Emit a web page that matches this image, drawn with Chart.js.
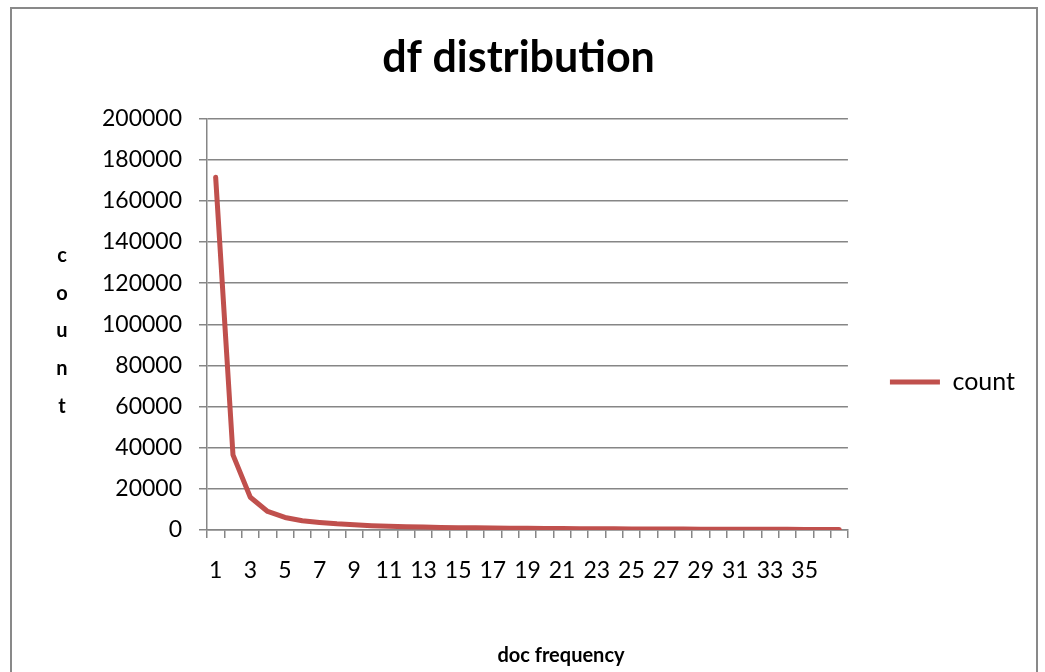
<!DOCTYPE html>
<html>
<head>
<meta charset="utf-8">
<script src="https://cdn.jsdelivr.net/npm/chart.js@4.4.1/dist/chart.umd.min.js"></script>
<style>
    body { margin: 0; overflow: hidden; background: #fff; }
    .chart-frame {
        position: absolute;
        left: 10px;
        top: 7px;
        width: 1024px;
        height: 746px;
        border: 2px solid #898989;
        background: #fff;
    }
</style>
</head>
<body>
<div class="chart-frame">
    <canvas id="dfChart" width="1024" height="746"></canvas>
</div>
<script>
// doc frequency categories and their counts
const categories = [1, 2, 3, 4, 5, 6, 7, 8, 9, 10, 11, 12, 13, 14, 15, 16, 17, 18, 19,
    20, 21, 22, 23, 24, 25, 26, 27, 28, 29, 30, 31, 32, 33, 34, 35, 36, 37];
const countValues = [171500, 36500, 15900, 9000, 6100, 4500, 3700, 3000, 2500, 2100,
    1800, 1600, 1400, 1250, 1150, 1050, 950, 880, 820, 760,
    700, 650, 600, 560, 520, 490, 460, 430, 410, 390,
    370, 350, 330, 310, 295, 280, 265];
const xTickLabels = [1, 3, 5, 7, 9, 11, 13, 15, 17, 19, 21, 23, 25, 27, 29, 31, 33, 35];
const yTicks = [0, 20000, 40000, 60000, 80000, 100000, 120000, 140000, 160000, 180000, 200000];

const chartTitle = 'df distribution';
const xTitle = 'doc frequency';
const yTitle = 'count';

const lineColor = '#C0504D';
const gridColor = '#868686';

// Excel style axis titles: stacked letters on the left, bold title under the axis
const axisTitles = {
    id: 'axisTitles',
    afterDraw(chart) {
        const ctx = chart.ctx;
        ctx.save();
        ctx.fillStyle = '#000';
        ctx.font = 'bold 20px Lato';
        ctx.textAlign = 'center';
        ctx.textBaseline = 'alphabetic';
        yTitle.split('').forEach((ch, i) => {
            ctx.fillText(ch, 50, 253 + i * 37.7);
        });
        ctx.textBaseline = 'middle';
        ctx.fillText(xTitle, 549, 647);
        ctx.restore();
    }
};

const ctx = document.getElementById('dfChart').getContext('2d');
const dfChart = new Chart(ctx, {
    type: 'line',
    data: {
        labels: categories,
        datasets: [{
            label: yTitle,
            data: countValues,
            borderColor: lineColor,
            backgroundColor: lineColor,
            borderWidth: 5,
            borderCapStyle: 'round',
            borderJoinStyle: 'round',
            pointRadius: 0,
            pointHoverRadius: 0,
            tension: 0,
            fill: false
        }]
    },
    options: {
        responsive: false,
        animation: false,
        layout: {
            padding: { top: 0, right: 11, bottom: 0, left: 0 }
        },
        plugins: {
            title: {
                display: true,
                text: chartTitle,
                color: '#000',
                font: { family: 'Lato', size: 43, weight: 'bold' },
                padding: { top: 23, bottom: 35 }
            },
            legend: {
                position: 'right',
                labels: {
                    color: '#000',
                    font: { family: 'Lato', size: 25 },
                    boxWidth: 50,
                    boxHeight: 5,
                    padding: 42,
                    generateLabels: function(chart) {
                        return chart.data.datasets.map((ds, i) => ({
                            text: ds.label,
                            fillStyle: ds.borderColor,
                            strokeStyle: ds.borderColor,
                            lineWidth: 0,
                            fontColor: '#000',
                            datasetIndex: i
                        }));
                    }
                }
            },
            tooltip: { enabled: false }
        },
        scales: {
            x: {
                offset: true,
                afterFit: function(scale) { scale.height = 225; },
                grid: {
                    offset: true,
                    drawOnChartArea: false,
                    drawTicks: true,
                    tickLength: 8,
                    color: gridColor,
                    lineWidth: 1.5
                },
                border: { display: true, color: gridColor, width: 1.5 },
                ticks: {
                    autoSkip: false,
                    maxRotation: 0,
                    minRotation: 0,
                    padding: 19,
                    color: '#000',
                    font: { family: 'Lato', size: 23 },
                    callback: function(value, index) {
                        const c = categories[index];
                        return xTickLabels.includes(c) ? String(c) : '';
                    }
                }
            },
            y: {
                min: yTicks[0],
                max: yTicks[yTicks.length - 1],
                afterFit: function(scale) { scale.width = 195; },
                afterBuildTicks: function(scale) {
                    scale.ticks = yTicks.map(v => ({ value: v }));
                },
                grid: {
                    color: gridColor,
                    lineWidth: 1.5,
                    drawTicks: true,
                    tickLength: 8
                },
                border: { display: true, color: gridColor, width: 1.5 },
                ticks: {
                    padding: 17,
                    color: '#000',
                    font: { family: 'Lato', size: 23 },
                    callback: function(value) { return String(value); }
                }
            }
        }
    },
    plugins: [axisTitles]
});
</script>
</body>
</html>
